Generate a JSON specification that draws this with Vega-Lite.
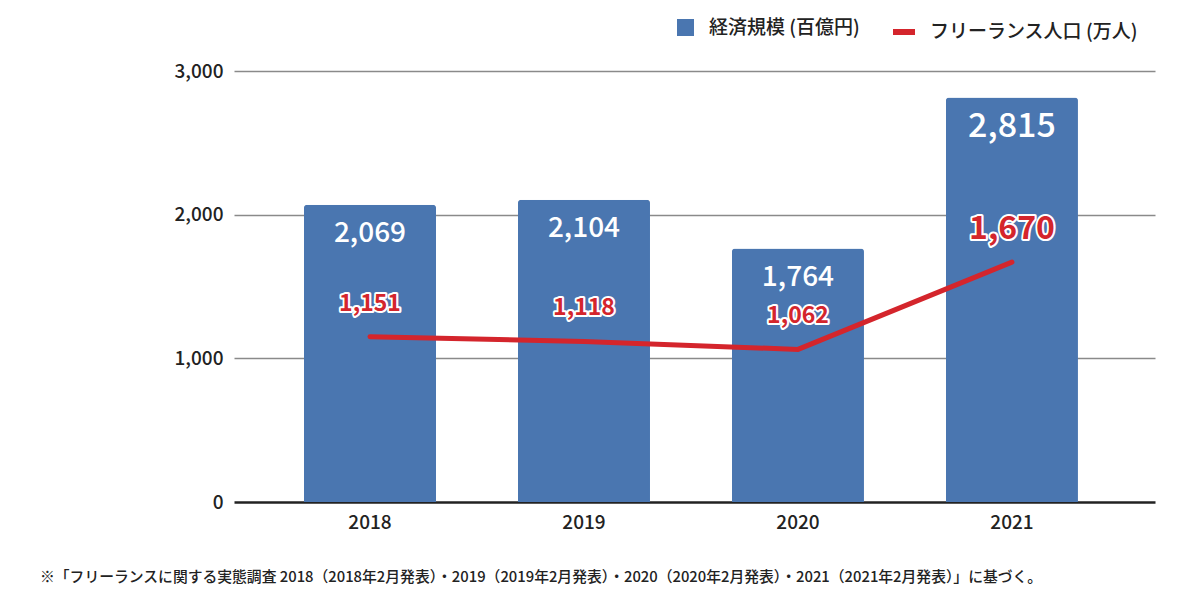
{
  "$schema": "https://vega.github.io/schema/vega-lite/v6.json",
  "autosize": {"type": "none"},
  "padding": {"left": 234, "top": 71, "right": 45, "bottom": 98},
  "width": 921,
  "height": 431,
  "background": "white",
  "title": {
    "text": "※「フリーランスに関する実態調査 2018（2018年2月発表）・2019（2019年2月発表）・2020（2020年2月発表）・2021（2021年2月発表）」に基づく。",
    "orient": "bottom",
    "anchor": "start",
    "frame": "group",
    "dx": -194,
    "offset": 38,
    "fontSize": 14.8,
    "fontWeight": 500,
    "color": "#222"
  },
  "data": {
    "values": [
      {"year": "2018", "economy": 2069, "population": 1151},
      {"year": "2019", "economy": 2104, "population": 1118},
      {"year": "2020", "economy": 1764, "population": 1062},
      {"year": "2021", "economy": 2815, "population": 1670}
    ]
  },
  "encoding": {
    "x": {
      "field": "year",
      "type": "nominal",
      "title": null,
      "scale": {"paddingInner": 0.383, "paddingOuter": 0.3435, "align": 0.476},
      "axis": {"labelAngle": 0, "ticks": false, "domain": false, "labelPadding": 11, "labelFontSize": 19, "labelFontWeight": 500, "labelColor": "#222"}
    }
  },
  "layer": [
    {
      "mark": {"type": "bar", "cornerRadiusTopLeft": 3, "cornerRadiusTopRight": 3},
      "encoding": {
        "y": {
          "field": "economy",
          "type": "quantitative",
          "title": null,
          "scale": {"domain": [0, 3000]},
          "axis": {
            "values": [0, 1000, 2000, 3000],
            "labelExpr": "format(datum.value, ',')",
            "ticks": false,
            "domain": false,
            "labelPadding": 11,
            "labelFontSize": 19,
            "labelFontWeight": 500,
            "labelColor": "#222",
            "gridColor": {"condition": {"test": "datum.value === 0", "value": "#222"}, "value": "#8a8a8a"},
            "gridWidth": {"condition": {"test": "datum.value === 0", "value": 2.5}, "value": 1.5}
          }
        },
        "fill": {
          "datum": "経済規模 (百億円)",
          "type": "nominal",
          "scale": {"range": ["#4a76b0"]},
          "legend": {
            "title": null,
            "orient": "none",
            "legendX": 442,
            "legendY": -53,
            "symbolType": "square",
            "symbolSize": 289,
            "labelFontSize": 19,
            "labelFontWeight": 500,
            "labelColor": "#222",
            "labelOffset": 14,
            "labelLimit": 400
          }
        }
      }
    },
    {
      "mark": {"type": "text", "color": "white", "baseline": "middle", "fontWeight": 500, "dy": 29},
      "encoding": {
        "y": {"field": "economy", "type": "quantitative"},
        "text": {"field": "economy", "type": "quantitative", "format": ","},
        "size": {"condition": {"test": "datum.year === '2021'", "value": 34}, "value": 28}
      }
    },
    {
      "mark": {"type": "line", "strokeWidth": 5, "strokeCap": "round"},
      "encoding": {
        "y": {"field": "population", "type": "quantitative"},
        "stroke": {
          "datum": "フリーランス人口 (万人)",
          "type": "nominal",
          "scale": {"range": ["#d4252c"]},
          "legend": {
            "title": null,
            "orient": "none",
            "legendX": 656,
            "legendY": -53,
            "symbolType": "stroke",
            "symbolSize": 484,
            "symbolStrokeWidth": 6,
            "labelFontSize": 19,
            "labelFontWeight": 500,
            "labelColor": "#222",
            "labelOffset": 12,
            "labelLimit": 400
          }
        }
      }
    },
    {
      "mark": {"type": "text", "color": "white", "stroke": "white", "strokeWidth": 4, "strokeJoin": "round", "fontWeight": "bold", "baseline": "middle", "dy": -33},
      "encoding": {
        "y": {"field": "population", "type": "quantitative"},
        "text": {"field": "population", "type": "quantitative", "format": ","},
        "size": {"condition": {"test": "datum.year === '2021'", "value": 32}, "value": 23}
      }
    },
    {
      "mark": {"type": "text", "color": "#d4252c", "fontWeight": "bold", "baseline": "middle", "dy": -33},
      "encoding": {
        "y": {"field": "population", "type": "quantitative"},
        "text": {"field": "population", "type": "quantitative", "format": ","},
        "size": {"condition": {"test": "datum.year === '2021'", "value": 32}, "value": 23}
      }
    }
  ],
  "config": {
    "font": "Noto Sans CJK JP",
    "view": {"stroke": null},
    "legend": {"padding": 0}
  }
}
